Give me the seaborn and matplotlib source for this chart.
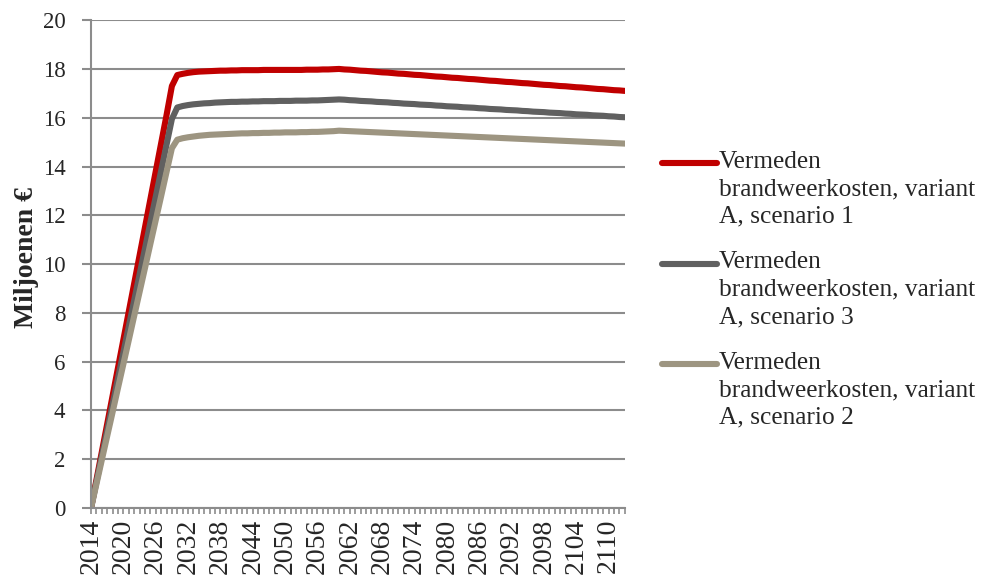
import numpy as np
import pandas as pd
import matplotlib
matplotlib.use("Agg")
import matplotlib.pyplot as plt
import seaborn as sns

# Jaren en vermeden brandweerkosten (miljoenen euro) per scenario
years = list(range(2014, 2114))

scenario_1 = [
    0.00, 1.15, 2.30, 3.45, 4.60, 5.75, 6.90, 8.05, 9.20, 10.35,
    11.50, 12.65, 13.80, 14.95, 16.10, 17.30, 17.75, 17.80, 17.84, 17.87,
    17.89, 17.90, 17.91, 17.92, 17.93, 17.93, 17.94, 17.94, 17.95, 17.95,
    17.95, 17.95, 17.96, 17.96, 17.96, 17.96, 17.96, 17.96, 17.96, 17.96,
    17.97, 17.97, 17.97, 17.98, 17.98, 17.99, 18.00, 17.98, 17.97, 17.95,
    17.93, 17.92, 17.90, 17.88, 17.86, 17.85, 17.83, 17.81, 17.80, 17.78,
    17.76, 17.75, 17.73, 17.71, 17.69, 17.68, 17.66, 17.64, 17.63, 17.61,
    17.59, 17.58, 17.56, 17.54, 17.52, 17.51, 17.49, 17.47, 17.46, 17.44,
    17.42, 17.41, 17.39, 17.37, 17.35, 17.34, 17.32, 17.30, 17.29, 17.27,
    17.25, 17.24, 17.22, 17.20, 17.18, 17.17, 17.15, 17.13, 17.12, 17.10,
]

scenario_3 = [
    0.00, 1.06, 2.13, 3.19, 4.25, 5.32, 6.38, 7.44, 8.51, 9.57,
    10.63, 11.70, 12.76, 13.82, 14.89, 15.95, 16.42, 16.48, 16.52, 16.55,
    16.57, 16.59, 16.60, 16.62, 16.63, 16.64, 16.65, 16.65, 16.66, 16.66,
    16.67, 16.67, 16.68, 16.68, 16.68, 16.69, 16.69, 16.69, 16.70, 16.70,
    16.70, 16.71, 16.71, 16.72, 16.73, 16.74, 16.75, 16.74, 16.72, 16.71,
    16.69, 16.68, 16.67, 16.65, 16.64, 16.63, 16.61, 16.60, 16.58, 16.57,
    16.56, 16.54, 16.53, 16.52, 16.50, 16.49, 16.47, 16.46, 16.45, 16.43,
    16.42, 16.41, 16.39, 16.38, 16.36, 16.35, 16.34, 16.32, 16.31, 16.30,
    16.28, 16.27, 16.25, 16.24, 16.23, 16.21, 16.20, 16.19, 16.17, 16.16,
    16.14, 16.13, 16.12, 16.10, 16.09, 16.08, 16.06, 16.05, 16.03, 16.02,
]

scenario_2 = [
    0.00, 0.98, 1.97, 2.95, 3.93, 4.92, 5.90, 6.88, 7.87, 8.85,
    9.83, 10.82, 11.80, 12.78, 13.77, 14.75, 15.10, 15.16, 15.20, 15.23,
    15.26, 15.28, 15.30, 15.31, 15.32, 15.33, 15.34, 15.35, 15.36, 15.36,
    15.37, 15.37, 15.38, 15.38, 15.39, 15.39, 15.40, 15.40, 15.40, 15.41,
    15.41, 15.42, 15.42, 15.43, 15.44, 15.45, 15.47, 15.46, 15.45, 15.44,
    15.43, 15.42, 15.41, 15.40, 15.39, 15.38, 15.37, 15.36, 15.35, 15.34,
    15.33, 15.32, 15.31, 15.30, 15.29, 15.28, 15.27, 15.26, 15.25, 15.24,
    15.23, 15.22, 15.21, 15.20, 15.19, 15.18, 15.17, 15.16, 15.15, 15.14,
    15.13, 15.12, 15.11, 15.10, 15.09, 15.08, 15.07, 15.06, 15.05, 15.04,
    15.03, 15.02, 15.01, 15.00, 14.99, 14.98, 14.97, 14.96, 14.95, 14.94,
]

series_labels = [
    "Vermeden\nbrandweerkosten, variant\nA, scenario 1",
    "Vermeden\nbrandweerkosten, variant\nA, scenario 3",
    "Vermeden\nbrandweerkosten, variant\nA, scenario 2",
]
series_values = [scenario_1, scenario_3, scenario_2]
series_colors = ["#C00000", "#606060", "#9D9581"]

y_ticks = list(range(0, 21, 2))
x_tick_years = list(range(2014, 2111, 6))

frames = [
    pd.DataFrame({"jaar": years, "waarde": vals, "reeks": lab})
    for lab, vals in zip(series_labels, series_values)
]
df = pd.concat(frames, ignore_index=True)

sns.set_style("white")
plt.rcParams["font.family"] = ["Liberation Serif", "DejaVu Serif"]

fig = plt.figure(figsize=(9.83, 5.76), dpi=100)
ax = fig.add_axes([0.0926, 0.118, 0.543, 0.847])

grid_color = "#8C8C8C"

sns.lineplot(
    data=df, x="jaar", y="waarde", hue="reeks",
    hue_order=series_labels, palette=dict(zip(series_labels, series_colors)),
    linewidth=4.4, ax=ax, legend=True, sort=False,
    solid_capstyle="round", solid_joinstyle="round",
)

ax.set_xlim(years[0], years[-1])
ax.set_ylim(0, 20)
ax.set_yticks(y_ticks)
ax.set_yticklabels([str(v) for v in y_ticks], fontsize=16.5)
ax.set_xticks(x_tick_years)
ax.set_xticklabels([str(v) for v in x_tick_years], rotation=90, fontsize=20)
ax.set_xticks(years, minor=True)

ax.yaxis.grid(True, color=grid_color, linewidth=1.5)
ax.set_axisbelow(True)
ax.tick_params(axis="y", which="major", direction="out", length=6.5, width=1.5,
               color=grid_color, left=True, pad=12)
ax.tick_params(axis="x", which="major", direction="out", length=4.5, width=1.2,
               color=grid_color, bottom=True, pad=3)
ax.tick_params(axis="x", which="minor", direction="out", length=4.5, width=1.2,
               color=grid_color, bottom=True)

for side in ["top", "right"]:
    ax.spines[side].set_visible(False)
for side in ["left", "bottom"]:
    ax.spines[side].set_color(grid_color)
    ax.spines[side].set_linewidth(1.5)

ax.set_xlabel("")
ax.set_ylabel("Miljoenen €", fontsize=20, fontweight="bold")
ax.yaxis.set_label_coords(-0.097, 0.514)

leg = ax.legend(
    loc="center left", bbox_to_anchor=(0.673, 0.497),
    bbox_transform=fig.transFigure, frameon=False, fontsize=18.3,
    handlelength=2.2, handletextpad=0.05, labelspacing=0.92,
    borderpad=0, borderaxespad=0,
)
for t in leg.get_texts():
    t.set_linespacing(1.33)
for line in leg.get_lines():
    line.set_linewidth(4.4)
    line.set_solid_capstyle("round")

# Raise each legend handle to the first line of its label
fig.canvas.draw()
renderer = fig.canvas.get_renderer()
for line, t in zip(leg.get_lines(), leg.get_texts()):
    h = t.get_window_extent(renderer).height
    shift_pt = (h / 3.0) * 72.0 / fig.dpi
    line.set_ydata(np.asarray(line.get_ydata()) + shift_pt)

fig.savefig("out.png", dpi=100, facecolor="white")
